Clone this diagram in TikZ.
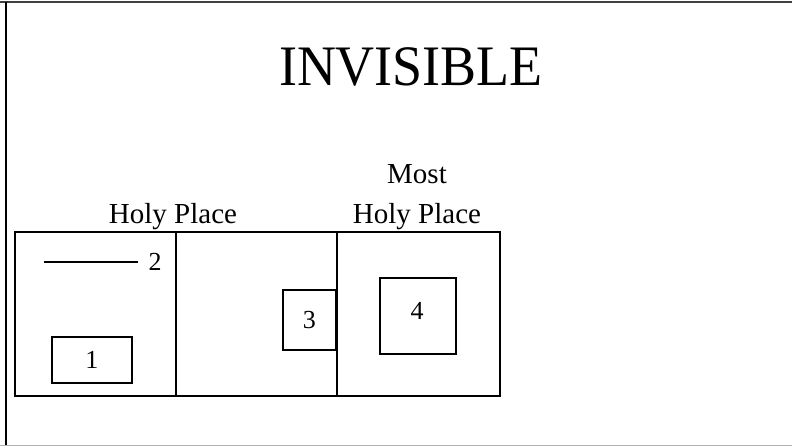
\documentclass[tikz,border=0pt]{standalone}
\usepackage{fontspec}
\setmainfont{Liberation Serif}
\begin{document}
\begin{tikzpicture}[x=1pt,y=-1pt,
  room/.style={draw, line width=1.7pt, inner sep=0pt, anchor=north west, minimum height=164pt},
  item/.style={draw, line width=1.6pt, inner sep=0pt, anchor=north west},
  lbl/.style={font=\fontsize{29}{29}\selectfont, anchor=base, inner sep=0pt},
  num/.style={font=\fontsize{26}{26}\selectfont, inner sep=0pt}]
\useasboundingbox (0,0) rectangle (792,446);
\fill[white] (0,0) rectangle (792,446);
% frame
\draw[line width=1.5pt, black!75] (0,2.2) -- (792,2.2);
\draw[line width=2pt] (6,2) -- (6,446);
\draw[line width=1pt, black!30] (0,445) -- (792,445);
% title
\node[font=\fontsize{54}{54}\selectfont, inner sep=0pt, anchor=base, yscale=1.06] (title) at (411,86) {INVISIBLE};
% labels
\node[lbl] (hp) at (173,224) {Holy Place};
\node[lbl] (most) at (417,184) {Most};
\node[lbl] (mhp) at (417,224) {Holy Place};
% rooms
\node[room, minimum width=161pt] (left) at (14,231) {};
\node[room, minimum width=161pt] (mid) at (175,231) {};
\node[room, minimum width=163pt] (right) at (336,231) {};
% items
\coordinate (la) at (44,262);
\coordinate (lb) at (138,262);
\draw[line width=1.6pt] (la) -- (lb);
\node[num] (n2) at (155,262) {2};
\node[item, minimum width=80pt, minimum height=46pt] (b1) at (51,336) {};
\node[num] (n1) at (b1.center) {1};
\node[item, minimum width=53pt, minimum height=60pt] (b3) at (282,289) {};
\node[num] (n3) at (b3.center) {3};
\node[item, minimum width=76pt, minimum height=76pt] (b4) at (379,277) {};
\node[num] (n4) at (417,311) {4};
\end{tikzpicture}
\end{document}
